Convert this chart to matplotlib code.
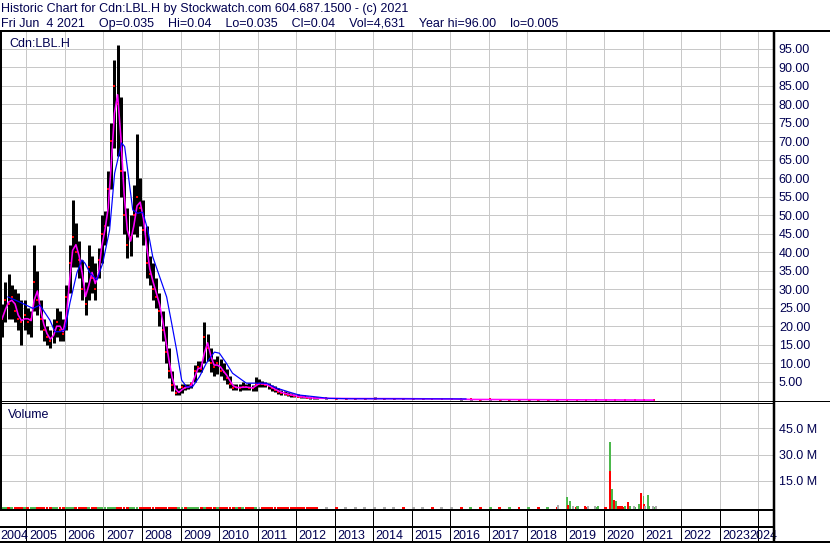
import numpy as np
import pandas as pd
import matplotlib
matplotlib.use("Agg")
import matplotlib.pyplot as plt
from matplotlib.lines import Line2D
from matplotlib import transforms

plt.rcParams['font.family'] = ['Liberation Sans', 'DejaVu Sans']

# ---------------- data ----------------
title = "Historic Chart for Cdn:LBL.H by Stockwatch.com 604.687.1500 - (c) 2021"
subtitle = ("Fri Jun  4 2021    Op=0.035    Hi=0.04    Lo=0.035    Cl=0.04    "
            "Vol=4,631    Year hi=96.00    lo=0.005")
symbol = "Cdn:LBL.H"
volume_title = "Volume"

monthly_start = "2004-05-01"
high_m = [26, 32, 34, 31, 30, 29, 27, 27, 25, 24,
          42, 35, 27, 22, 20, 19, 22, 25, 24, 22,
          31, 42, 54, 48, 43, 38, 32, 42, 39, 37,
          41, 50, 51, 62, 75, 92, 96, 82, 62, 52,
          50, 58, 72, 60, 54, 47, 39, 37, 33, 29,
          24, 20, 14, 8, 4, 3.2, 4.5, 4.3, 4.5, 5,
          9.5, 10.5, 10.5, 21, 18, 14, 11, 12, 11, 10,
          8.5, 6.5, 4.5, 4.5, 4.4, 4.8, 4.5, 4.6, 4.2, 6.4,
          5.6, 5.3, 5.0, 4.6, 4.2, 3.8, 3.2, 2.8, 2.5, 2.2,
          2.0, 1.8, 1.6, 1.4, 1.3, 1.1, 1.0, 0.9]
low_m = [17, 21, 22, 22, 21, 19, 15, 19, 18, 17,
         24, 23, 19, 16, 15, 14, 15.5, 17, 16, 16,
         19, 29, 36, 36, 33, 27, 23, 27, 29, 27,
         33, 37, 42, 47, 57, 68, 66, 55, 45, 38.5,
         39, 45, 44, 47, 42, 33, 31, 27, 25, 20,
         16, 10, 6, 2.5, 1.5, 1.4, 2.0, 2.8, 3.0, 3.2,
         5.0, 7.5, 7.5, 10, 10.5, 7.5, 6.5, 7.0, 6.5, 5.5,
         4.5, 3.3, 2.8, 2.7, 2.6, 2.8, 2.8, 2.8, 2.5, 2.5,
         3.5, 3.6, 3.5, 3.0, 2.6, 2.2, 1.8, 1.5, 1.3, 1.1,
         1.0, 0.9, 0.8, 0.7, 0.6, 0.5, 0.45, 0.4]
close_m = [22, 27, 26, 28, 24, 22, 21, 23, 21, 22,
           32, 27, 22, 19, 17, 16, 19, 21, 19, 18,
           28, 37, 44, 40, 38, 30, 26, 36, 33, 30,
           38, 45, 47, 57, 70, 85, 80, 62, 50, 42,
           44, 50, 55, 52, 46, 37, 34, 30, 28, 24,
           19, 13, 8, 4, 2, 2.2, 3.5, 3.4, 3.6, 4.5,
           8, 9, 8.5, 17, 14, 10, 9, 10, 8, 7.5,
           6, 4.5, 3.3, 3.5, 3.4, 3.6, 3.5, 3.4, 3.2, 4.5,
           4.5, 4.4, 4.2, 3.8, 3.2, 2.8, 2.3, 2.0, 1.8, 1.5,
           1.4, 1.2, 1.0, 0.9, 0.8, 0.7, 0.6, 0.55]
vol_m = [0.1, 0.05, 0.05, 0.05, 0.1, 0.05, 0.1, 0.05, 0.05, 0.05,
         0.05, 0.1, 0.05, 0.05, 0.05, 0.05, 0.05, 0.1, 0.05, 0.05,
         0.1, 0.1, 0.1, 0.05, 0.05, 0.05, 0.05, 0.1, 0.05, 0.05,
         0.05, 0.1, 0.05, 0.1, 0.1, 0.1, 0.1, 0.1, 0.05, 0.05,
         0.05, 0.05, 0.1, 0.05, 0.05, 0.05, 0.05, 0.05, 0.05, 0.05,
         0.05, 0.05, 0.05, 0.1, 0.1, 0.05, 0.05, 0.05, 0.05, 0.05,
         0.05, 0.05, 0.05, 0.1, 0.05, 0.05, 0.05, 0.05, 0.05, 0.05,
         0.05, 0.05, 0.05, 0.05, 0.05, 0.05, 0.05, 0.05, 0.05, 0.05,
         0.05, 0.05, 0.05, 0.05, 0.05, 0.05, 0.05, 0.05, 0.05, 0.05,
         0.05, 0.05, 0.05, 0.05, 0.05, 0.05, 0.05, 0.05]

quarterly_start = "2012-07-01"
high_q = [0.8, 0.7, 0.6, 0.6, 0.55, 0.5, 0.9, 0.6, 0.5, 0.5,
          0.6, 0.5, 0.45, 0.45, 0.4, 0.35, 0.3, 0.3, 0.3, 0.25,
          0.25, 0.3, 0.25, 0.2, 0.2, 0.2, 0.15, 0.15, 0.12, 0.12,
          0.12, 0.1, 0.1, 0.1, 0.08, 0.06]
low_q = [0.4, 0.4, 0.35, 0.35, 0.3, 0.3, 0.3, 0.3, 0.3, 0.25,
         0.25, 0.25, 0.2, 0.2, 0.2, 0.15, 0.15, 0.15, 0.12, 0.12,
         0.1, 0.1, 0.1, 0.08, 0.08, 0.06, 0.05, 0.05, 0.04, 0.03,
         0.03, 0.02, 0.02, 0.01, 0.01, 0.005]
close_q = [0.5, 0.5, 0.45, 0.45, 0.45, 0.45, 0.45, 0.45, 0.45, 0.4,
           0.4, 0.4, 0.35, 0.35, 0.35, 0.2, 0.22, 0.18, 0.2, 0.15,
           0.18, 0.12, 0.15, 0.1, 0.12, 0.08, 0.1, 0.07, 0.06, 0.08,
           0.05, 0.06, 0.04, 0.05, 0.035, 0.04]
vol_q = [0.05, 0.05, 0.05, 0.05, 0.05, 0.05, 0.05, 0.05, 0.05, 0.05,
         0.05, 0.05, 0.05, 0.05, 0.05, 0.05, 0.05, 0.05, 0.05, 0.05,
         0.05, 0.05, 0.05, 0.05, 0.1, 0.1, 0.1, 0.1, 0.1, 0.1,
         0.1, 0.1, 0.1, 0.1, 0.1, 0.1]

ma_long_years = [2004.52, 2004.83, 2005.17, 2005.35, 2005.61, 2005.74, 2005.87, 2006.00, 2006.13, 2006.31,
                 2006.44, 2006.52, 2006.65, 2006.83, 2006.98, 2007.16, 2007.29, 2007.47, 2007.55, 2007.63,
                 2007.76, 2007.89, 2008.02, 2008.15, 2008.28, 2008.46, 2008.64, 2008.77, 2008.90, 2009.03,
                 2009.16, 2009.31, 2009.49, 2009.67, 2009.88, 2010.01, 2010.19, 2010.35, 2010.71, 2010.97,
                 2011.23, 2011.49, 2011.82, 2012.08, 2012.52, 2012.86, 2013.38, 2016.41]
ma_long_values = [27.9, 26.5, 24.8, 25.7, 21.6, 18.5, 18.5, 19.0, 26.3, 34.4,
                  37.9, 37.0, 34.4, 32.5, 37.0, 46.0, 61.3, 69.5, 68.5, 62.0,
                  51.4, 50.5, 50.8, 46.0, 38.7, 33.3, 27.9, 20.8, 13.5, 5.4,
                  3.6, 3.6, 6.3, 10.0, 13.0, 12.7, 10.0, 7.3, 4.6, 4.6,
                  4.6, 3.3, 2.2, 1.4, 0.9, 0.5, 0.4, 0.35]

spike_years = [2018.81, 2019.03, 2019.07, 2019.12, 2019.20, 2019.29, 2019.33, 2019.51, 2019.59, 2019.76,
               2019.85, 2020.16, 2020.15, 2020.19, 2020.26, 2020.31, 2020.35, 2020.42, 2020.47, 2020.55,
               2020.61, 2020.67, 2020.78, 2020.90, 2020.96, 2021.02, 2021.03, 2021.06, 2021.14, 2021.17,
               2021.27, 2021.35]
spike_volume = [1.1, 5.9, 1.0, 3.4, 0.6, 0.6, 0.7, 0.6, 0.5, 0.8,
                0.3, 37.2, 20.8, 10.3, 4.0, 3.4, 0.8, 0.5, 0.6, 0.4,
                2.9, 0.6, 0.4, 1.7, 8.0, 6.1, 1.5, 0.6, 6.9, 0.6,
                0.4, 0.4]
spike_dir = [0, 1, -1, 1, 0, 1, 1, -1, 0, 0,
             1, 1, -1, 1, -1, 1, -1, -1, -1, 1,
             -1, 1, 0, 1, -1, 1, -1, 0, 1, 1,
             0, 0]

year_labels = list(range(2004, 2025))
price_ticks = [5, 10, 15, 20, 25, 30, 35, 40, 45, 50, 55, 60, 65, 70, 75, 80, 85, 90, 95]
volume_ticks = [15, 30, 45]

# ---------------- layout ----------------
W, H, DPI = 830, 543, 100
PX = 72.0 / DPI
GRID = '#c8c8c8'
TXT = '#000050'
UP, DOWN, FLAT = '#4cb84c', '#ff0000', '#aaaaaa'
XLIM = (2004.314, 2024.381)

fig = plt.figure(figsize=(W / DPI, H / DPI), dpi=DPI)
fig.patch.set_facecolor('white')


def add_ax(x0, y0, x1, y1):
    return fig.add_axes([x0 / W, 1 - y1 / H, (x1 - x0) / W, (y1 - y0) / H])


def fig_line(x0, y0, x1, y1, lw_px, color='black'):
    fig.add_artist(Line2D([x0 / W, x1 / W], [1 - y0 / H, 1 - y1 / H], transform=fig.transFigure,
                          lw=lw_px * PX, color=color, solid_capstyle='butt', zorder=10))


ax_p = add_ax(0, 30, 773, 400.7)
ax_v = add_ax(0, 402.7, 773, 509.5)
ax_y = add_ax(0, 509.5, 773, 541)

for ax in (ax_p, ax_v, ax_y):
    ax.set_xlim(*XLIM)
    for s in ax.spines.values():
        s.set_visible(False)
    ax.set_facecolor('white')


def dec_year(idx):
    idx = pd.DatetimeIndex(idx)
    days = np.where(idx.is_leap_year, 366.0, 365.0)
    return idx.year.values + (idx.dayofyear.values - 1) / days


t_m = dec_year(pd.date_range(monthly_start, periods=len(high_m), freq="MS") + pd.Timedelta(days=14))
t_q = dec_year(pd.date_range(quarterly_start, periods=len(high_q), freq="QS") + pd.Timedelta(days=14))
t = np.concatenate([t_m, t_q])
high = np.array(high_m + high_q, dtype=float)
low = np.array(low_m + low_q, dtype=float)
close = np.array(close_m + close_q, dtype=float)
vol = np.array(vol_m + vol_q, dtype=float)
ma_short = pd.Series(close).rolling(2, min_periods=1).mean().values

# ---------------- price panel ----------------
ax_p.set_ylim(-0.13, 100)
for y in price_ticks:
    ax_p.axhline(y, color=GRID, lw=1 * PX, zorder=0)
for yr in year_labels[1:]:
    ax_p.axvline(yr, color=GRID, lw=1 * PX, zorder=0)
ax_p.vlines(t, low, high, colors='black', lw=3.0 * PX, zorder=2)
ax_p.plot(t, close, ls='none', marker='s', ms=2.2 * PX, mfc='red', mec='red', mew=0, zorder=3)
ax_p.plot(t, ma_short, color='#ff00ff', lw=1.6 * PX, zorder=4)
ax_p.plot(ma_long_years, ma_long_values, color='#0000ff', lw=1.2 * PX, zorder=5)

ax_p.yaxis.tick_right()
ax_p.set_yticks(price_ticks)
ax_p.set_yticklabels([f"{v:.2f}" for v in price_ticks])
ax_p.tick_params(axis='y', length=0, pad=4.2, labelsize=9, labelcolor=TXT)
ax_p.set_xticks([])
ax_p.text(9 / 773, 1 - (46.7 - 30) / 370.7, symbol, transform=ax_p.transAxes,
          fontsize=9, color=TXT, va='baseline', ha='left')

# ---------------- volume panel ----------------
ax_v.set_ylim(-1.49, 59.66)
vbase = ax_v.get_ylim()[0]
for y in volume_ticks:
    ax_v.axhline(y, color=GRID, lw=1 * PX, zorder=0)
for yr in year_labels[1:]:
    ax_v.axvline(yr, color=GRID, lw=1 * PX, zorder=0)

diff = np.diff(close, prepend=close[0] - 1)
cols = [UP if d > 0 else (DOWN if d < 0 else FLAT) for d in diff]
ax_v.bar(t, vol - vbase, bottom=vbase, width=0.075, color=cols, linewidth=0, zorder=2)
scol = [UP if d > 0 else (DOWN if d < 0 else FLAT) for d in spike_dir]
ax_v.bar(spike_years, np.array(spike_volume) - vbase, bottom=vbase, width=0.05,
         color=scol, linewidth=0, zorder=3)

ax_v.yaxis.tick_right()
ax_v.set_yticks(volume_ticks)
ax_v.set_yticklabels([f"{v:.1f} M" for v in volume_ticks])
ax_v.tick_params(axis='y', length=0, pad=4.2, labelsize=9, labelcolor=TXT)
ax_v.set_xticks([])
ax_v.text(8 / 773, 1 - (418 - 402.7) / 106.8, volume_title, transform=ax_v.transAxes,
          fontsize=9, color=TXT, va='baseline', ha='left')

# ---------------- year strip ----------------
ax_y.set_ylim(0, 1)
ax_y.set_xticks([])
ax_y.set_yticks([])
for yr in year_labels[1:]:
    ax_y.axvline(yr, color='black', lw=1 * PX, zorder=1)
base = transforms.blended_transform_factory(ax_y.transData, ax_y.transAxes)
ybase = (541 - 539) / 31.5
for yr in year_labels:
    if yr == year_labels[0]:
        ax_y.text(XLIM[0], ybase, str(yr), transform=base, ha='left', va='baseline',
                  fontsize=9, color=TXT, clip_on=False)
    elif yr == year_labels[-1]:
        tr = base + transforms.ScaledTranslation(4 / DPI, 0, fig.dpi_scale_trans)
        ax_y.text(XLIM[1], ybase, str(yr), transform=tr, ha='right', va='baseline',
                  fontsize=9, color=TXT, clip_on=False, zorder=5)
    else:
        tr = base + transforms.ScaledTranslation(2.5 / DPI, 0, fig.dpi_scale_trans)
        ax_y.text(yr, ybase, str(yr), transform=tr, ha='left', va='baseline',
                  fontsize=9, color=TXT, clip_on=False)

# ---------------- frame lines ----------------
fig_line(0, 31, W, 31, 2)            # top
fig_line(1, 30, 1, 510, 2)           # left
fig_line(0, 400.7, W, 400.7, 1)      # price bottom
fig_line(0, 402.7, 773, 402.7, 1)    # volume top
fig_line(0, 510, 773, 510, 2)        # volume bottom
fig_line(0, 527, 773, 527, 2)        # strip middle
fig_line(0, 541.5, W, 541.5, 2)      # bottom
fig_line(774, 30, 774, H, 2.5)       # right axis line

# ---------------- header ----------------
fig.text(1 / W, 1 - 11.7 / H, title, fontsize=9, color=TXT, va='baseline', ha='left')
fig.text(1 / W, 1 - 26.7 / H, subtitle, fontsize=9, color=TXT, va='baseline', ha='left')

fig.savefig("out.png", dpi=DPI, facecolor='white')
